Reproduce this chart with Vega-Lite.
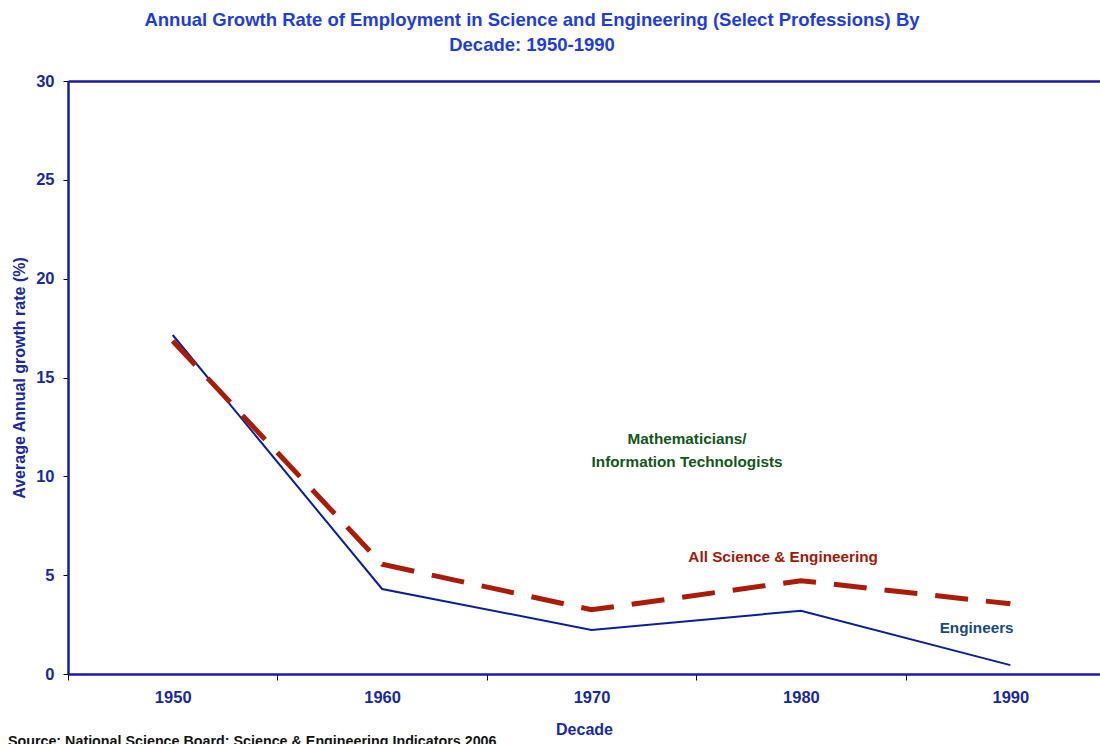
{
  "$schema": "https://vega.github.io/schema/vega-lite/v6.json",
  "width": 1032,
  "height": 593,
  "autosize": {"type": "none"},
  "padding": {"left": 68, "top": 81, "right": 0, "bottom": 70},
  "background": "white",
  "config": {
    "font": "Liberation Sans",
    "view": {"stroke": null},
    "text": {"font": "Liberation Sans", "fontWeight": "bold"}
  },
  "title": {
    "text": ["Annual Growth Rate of Employment in Science and Engineering (Select Professions) By", "Decade: 1950-1990"],
    "fontSize": 18.5,
    "fontWeight": "bold",
    "color": "#1f3ddc",
    "lineHeight": 25,
    "anchor": "middle",
    "frame": "group",
    "dx": -52,
    "offset": 19
  },
  "datasets": {
    "growth": [
      {"decade": 1950, "series": "Engineers", "rate": 17.15},
      {"decade": 1960, "series": "Engineers", "rate": 4.3},
      {"decade": 1970, "series": "Engineers", "rate": 2.23},
      {"decade": 1980, "series": "Engineers", "rate": 3.2},
      {"decade": 1990, "series": "Engineers", "rate": 0.45},
      {"decade": 1950, "series": "All Science & Engineering", "rate": 16.85},
      {"decade": 1960, "series": "All Science & Engineering", "rate": 5.55},
      {"decade": 1970, "series": "All Science & Engineering", "rate": 3.25},
      {"decade": 1980, "series": "All Science & Engineering", "rate": 4.72},
      {"decade": 1990, "series": "All Science & Engineering", "rate": 3.55}
    ],
    "labels": [
      {"x": 1974.56, "y": 11.87, "label": "Mathematicians/\nInformation Technologists", "group": "math"},
      {"x": 1979.15, "y": 5.93, "label": "All Science & Engineering", "group": "all"},
      {"x": 1988.39, "y": 2.33, "label": "Engineers", "group": "eng"}
    ],
    "source": [
      {"x": 1942.13, "y": -3.44, "label": "Source: National Science Board: Science & Engineering Indicators 2006"}
    ]
  },
  "encoding": {
    "x": {
      "type": "quantitative",
      "scale": {"domain": [1945, 1994.28], "nice": false, "zero": false},
      "axis": {
        "title": "Decade",
        "values": [1945, 1950, 1955, 1960, 1965, 1970, 1975, 1980, 1985, 1990],
        "format": "d",
        "labelExpr": "datum.value % 10 === 0 ? datum.label : ''",
        "labelFlush": false,
        "labelOverlap": false,
        "labelFontSize": 16.5,
        "labelFontWeight": "bold",
        "labelColor": "#1a2a9e",
        "labelPadding": 9,
        "tickColor": "#000000",
        "tickSize": 6,
        "tickWidth": 1,
        "tickOpacity": {"condition": {"test": "datum.value % 10 === 5", "value": 1}, "value": 0},
        "domainColor": "#1a1aa0",
        "domainWidth": 2.5,
        "grid": false,
        "titleFontSize": 16,
        "titleFontWeight": "bold",
        "titleColor": "#1a2a9e",
        "titlePadding": 16
      }
    },
    "y": {
      "type": "quantitative",
      "scale": {"domain": [0, 30], "nice": false},
      "axis": {
        "title": "Average Annual growth rate (%)",
        "values": [0, 5, 10, 15, 20, 25, 30],
        "labelFontSize": 16.5,
        "labelFontWeight": "bold",
        "labelColor": "#1a2a9e",
        "labelPadding": 9,
        "tickColor": "#000000",
        "tickSize": 5,
        "tickWidth": 1,
        "domainColor": "#1a1aa0",
        "domainWidth": 2.5,
        "grid": true,
        "gridColor": "#1a1aa0",
        "gridWidth": 2.5,
        "gridOpacity": {"condition": {"test": "datum.value === 30", "value": 1}, "value": 0},
        "titleFontSize": 16,
        "titleFontWeight": "bold",
        "titleColor": "#1a2a9e",
        "titlePadding": 8
      }
    }
  },
  "layer": [
    {
      "data": {"name": "growth"},
      "transform": [{"filter": "datum.series === 'Engineers'"}],
      "mark": {"type": "line", "color": "#0b1f9a", "strokeWidth": 2},
      "encoding": {
        "x": {"field": "decade"},
        "y": {"field": "rate"}
      }
    },
    {
      "data": {"name": "growth"},
      "transform": [{"filter": "datum.series === 'All Science & Engineering'"}],
      "mark": {"type": "line", "color": "#a81c08", "strokeWidth": 5, "strokeDash": [33, 18], "strokeCap": "butt"},
      "encoding": {
        "x": {"field": "decade"},
        "y": {"field": "rate"}
      }
    },
    {
      "data": {"name": "labels"},
      "mark": {"type": "text", "fontSize": 15.3, "fontWeight": "bold", "align": "center", "baseline": "middle", "lineBreak": "\n", "lineHeight": 23},
      "encoding": {
        "x": {"field": "x"},
        "y": {"field": "y"},
        "text": {"field": "label"},
        "color": {
          "field": "group",
          "type": "nominal",
          "scale": {"domain": ["math", "all", "eng"], "range": ["#13561a", "#a01a0a", "#1a4a80"]},
          "legend": null
        }
      }
    },
    {
      "data": {"name": "source"},
      "mark": {"type": "text", "fontSize": 14.3, "fontWeight": "bold", "align": "left", "baseline": "middle", "color": "#111111"},
      "encoding": {
        "x": {"field": "x"},
        "y": {"field": "y"},
        "text": {"field": "label"}
      }
    }
  ]
}
